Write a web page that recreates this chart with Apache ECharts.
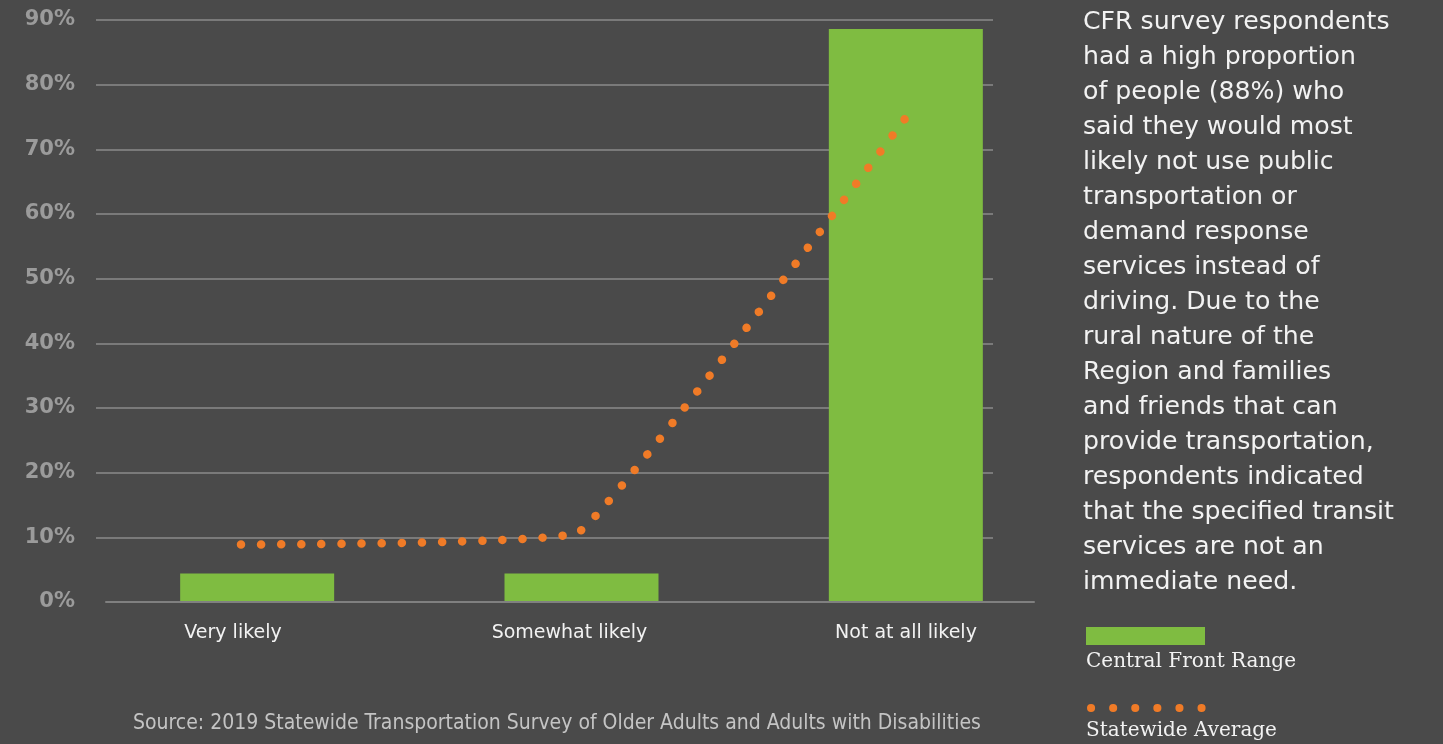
<!DOCTYPE html>
<html>
<head>
<meta charset="utf-8">
<script src="https://cdn.jsdelivr.net/npm/echarts@6/dist/echarts.min.js"></script>
<style>
  html, body { margin: 0; padding: 0; background: #4a4a4a; }
  #chart { width: 1443px; height: 744px; }
</style>
</head>
<body>
<div id="chart"></div>
<script>
// ---- data ----
const categories = ['Very likely', 'Somewhat likely', 'Not at all likely'];
const centralFrontRange = [4.4, 4.4, 88.6];   // bars (%)
const statewideAverage = [8.9, 10.8, 77.0];   // dotted line (%)
const yTicks = { min: 0, max: 90, interval: 10 };
const seriesNames = ['Central Front Range', 'Statewide Average'];
const noteText = [
  'CFR survey respondents',
  'had a high proportion',
  'of people (88%) who',
  'said they would most',
  'likely not use public',
  'transportation or',
  'demand response',
  'services instead of',
  'driving. Due to the',
  'rural nature of the',
  'Region and families',
  'and friends that can',
  'provide transportation,',
  'respondents indicated',
  'that the specified transit',
  'services are not an',
  'immediate need.'
];
const sourceText = 'Source: 2019 Statewide Transportation Survey of Older Adults and Adults with Disabilities';

// ---- styles ----
const GREEN = '#7fbc41';
const ORANGE = '#f07b27';
const TOP = 20, BOTTOM = 142;

const chart = echarts.init(document.getElementById('chart'), null, { renderer: 'canvas' });

function hiddenX(gridIndex, boundaryGap) {
  return { type: 'category', gridIndex, data: categories, boundaryGap, show: false };
}
function hiddenY(gridIndex) {
  return { type: 'value', gridIndex, min: yTicks.min, max: yTicks.max, interval: yTicks.interval, show: false, splitLine: { show: false } };
}

const option = {
  backgroundColor: '#4a4a4a',
  animation: false,
  title: [
    {
      text: noteText.join('\n'),
      left: 1083, top: 5, padding: 0,
      textStyle: { color: '#f2f2f2', fontFamily: 'DejaVu Sans', fontSize: 25.2, fontWeight: 'normal', lineHeight: 35 }
    },
    {
      text: sourceText,
      left: 133, top: 713, padding: 0,
      textStyle: { color: '#c4c4c4', fontFamily: 'DejaVu Sans Condensed', fontSize: 21, fontWeight: 'normal' }
    }
  ],
  grid: [
    { left: 95, right: 375, top: TOP, bottom: BOTTOM },   // bars
    { left: 241, right: 527, top: TOP, bottom: BOTTOM },  // line
    { left: 96, right: 450, top: TOP, bottom: BOTTOM },   // y labels + split lines
    { left: 233, right: 537, top: TOP, bottom: BOTTOM },  // x labels
    { left: 106, right: 409, top: TOP, bottom: BOTTOM }   // x axis line
  ],
  xAxis: [
    hiddenX(0, true),
    hiddenX(1, false),
    hiddenX(2, true),
    {
      type: 'category', gridIndex: 3, data: categories, boundaryGap: false,
      axisLine: { show: false }, axisTick: { show: false },
      axisLabel: { color: '#f2f2f2', fontFamily: 'DejaVu Sans', fontSize: 19, margin: 22 }
    },
    {
      type: 'category', gridIndex: 4, data: categories,
      axisLine: { show: true, lineStyle: { color: '#808080', width: 2 } },
      axisTick: { show: false }, axisLabel: { show: false }, z: 5
    }
  ],
  yAxis: [
    hiddenY(0),
    hiddenY(1),
    {
      type: 'value', gridIndex: 2, min: yTicks.min, max: yTicks.max, interval: yTicks.interval,
      axisLine: { show: false }, axisTick: { show: false },
      axisLabel: { formatter: '{value}%', color: '#9b9b9b', fontFamily: 'DejaVu Sans', fontWeight: 'bold', fontSize: 21, margin: 21 },
      splitLine: { show: true, showMinLine: false, lineStyle: { color: '#7a7a7a', width: 2 } }
    },
    hiddenY(3),
    hiddenY(4)
  ],
  series: [
    {
      name: seriesNames[0], type: 'bar', xAxisIndex: 0, yAxisIndex: 0,
      data: centralFrontRange, barWidth: 154,
      itemStyle: { color: GREEN }, z: 2
    },
    {
      name: seriesNames[1], type: 'line', xAxisIndex: 1, yAxisIndex: 1,
      data: statewideAverage, smooth: 0.08, symbol: 'none',
      lineStyle: { color: ORANGE, width: 8.5, type: [0.1, 20], cap: 'round' }, z: 6
    }
  ],
  graphic: [
    { type: 'rect', shape: { x: 1086, y: 627, width: 119, height: 18 }, style: { fill: GREEN } },
    { type: 'text', x: 1086, y: 662, style: { text: seriesNames[0], fill: '#f2f2f2', font: '20px "DejaVu Serif"', verticalAlign: 'middle' } },
    { type: 'line', shape: { x1: 1091, y1: 708, x2: 1202, y2: 708 }, style: { stroke: ORANGE, lineWidth: 8, lineCap: 'round', lineDash: [0.1, 22] } },
    { type: 'text', x: 1086, y: 731, style: { text: seriesNames[1], fill: '#f2f2f2', font: '20px "DejaVu Serif"', verticalAlign: 'middle' } }
  ]
};
chart.setOption(option);
</script>
</body>
</html>
